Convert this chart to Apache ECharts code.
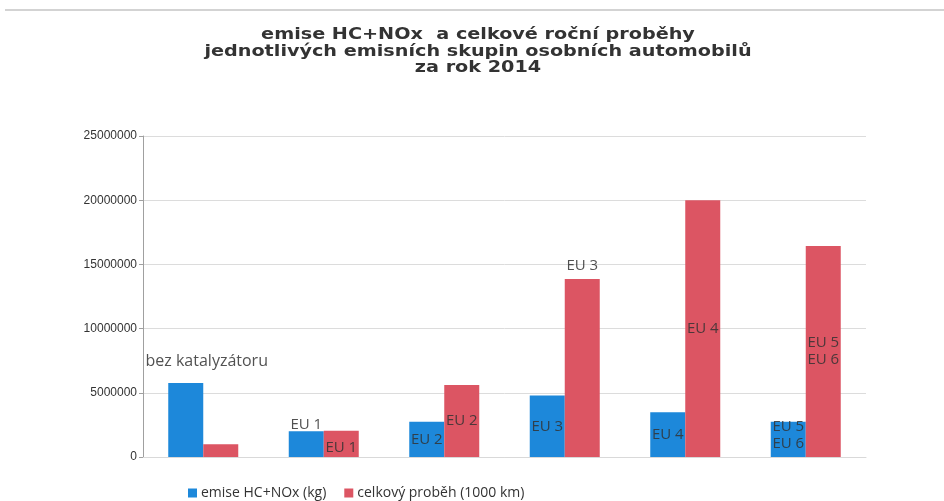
<!DOCTYPE html>
<html>
<head>
<meta charset="utf-8">
<script src="https://cdn.jsdelivr.net/npm/echarts@6/dist/echarts.min.js"></script>
<style>
  html, body { margin: 0; padding: 0; background: #fff; }
  #chart { width: 944px; height: 501px; }
</style>
</head>
<body>
<div id="chart"></div>
<script>
// ---- data ----
const categories = ['bez katalyzátoru', 'EU 1', 'EU 2', 'EU 3', 'EU 4', 'EU 5 EU 6'];
const emiseHC = [5760000, 2000000, 2750000, 4780000, 3490000, 2750000];
const probeh = [1000000, 2050000, 5600000, 13860000, 20000000, 16430000];
const emiseLabels = ['bez katalyzátoru', 'EU 1', 'EU 2', 'EU 3', 'EU 4', 'EU 5\nEU 6'];
const probehLabels = ['', 'EU 1', 'EU 2', 'EU 3', 'EU 4', 'EU 5\nEU 6'];
const seriesNames = ['emise HC+NOx (kg)', 'celkový proběh (1000 km)'];
const titleText = 'emise HC+NOx  a celkové roční proběhy\njednotlivých emisních skupin osobních automobilů\nza rok 2014';

// ---- label placement (styling, kept apart from data) ----
const emiseLabelPos = [
  { position: 'top', offset: [21, -8], fontSize: 16 },
  { position: 'top', offset: [0, 7] },
  { position: 'inside' },
  { position: 'inside' },
  { position: 'inside' },
  { position: 'inside', offset: [0, -4] }
];
const probehLabelPos = [
  { position: 'inside' },
  { position: 'insideBottom', offset: [0, 4] },
  { position: 'inside' },
  { position: 'top' },
  { position: 'inside' },
  { position: 'inside' }
];

const labelFont = { fontFamily: 'Open Sans', fontSize: 15, color: 'rgba(50,50,50,0.85)', lineHeight: 17 };

function buildData(values, labels, pos) {
  return values.map((v, i) => ({
    value: v,
    label: Object.assign({ show: labels[i] !== '', formatter: labels[i] }, labelFont, pos[i])
  }));
}

const chart = echarts.init(document.getElementById('chart'));
chart.setOption({
  backgroundColor: '#ffffff',
  animation: false,
  graphic: [
    {
      type: 'line',
      shape: { x1: 5, y1: 10, x2: 944, y2: 10 },
      style: { stroke: '#c4c4c4', lineWidth: 1.5 }
    },
    {
      type: 'text',
      x: 478,
      y: 27,
      scaleX: 1.2,
      style: {
        text: titleText,
        align: 'center',
        verticalAlign: 'top',
        fontFamily: 'DejaVu Sans',
        fontWeight: 'bold',
        fontSize: 16,
        lineHeight: 16.5,
        fill: '#333'
      }
    }
  ],
  legend: {
    data: seriesNames,
    left: 183,
    top: 481,
    itemWidth: 9,
    itemHeight: 9,
    itemGap: 18,
    icon: 'rect',
    textStyle: { fontFamily: 'Open Sans', fontSize: 14, color: '#333', padding: [0, 0, 0, -1] }
  },
  grid: { left: 143, right: 78, top: 136, bottom: 44 },
  xAxis: {
    type: 'category',
    data: categories,
    axisLabel: { show: false },
    axisTick: { show: false },
    axisLine: { lineStyle: { color: '#d9d9d9' } }
  },
  yAxis: {
    type: 'value',
    min: 0,
    max: 25000000,
    interval: 5000000,
    axisLine: { show: true, lineStyle: { color: '#a0a0a0' } },
    axisTick: { show: true, length: 4, lineStyle: { color: '#a0a0a0' } },
    axisLabel: {
      fontFamily: 'Liberation Sans', fontSize: 12, color: '#333', margin: 6,
      formatter: v => String(v)
    },
    splitLine: { lineStyle: { color: '#dcdcdc' } }
  },
  series: [
    {
      name: seriesNames[0],
      type: 'bar',
      barWidth: 35,
      barGap: '0%',
      itemStyle: { color: '#1d88da' },
      data: buildData(emiseHC, emiseLabels, emiseLabelPos)
    },
    {
      name: seriesNames[1],
      type: 'bar',
      barWidth: 35,
      barGap: '0%',
      itemStyle: { color: '#dc5563' },
      data: buildData(probeh, probehLabels, probehLabelPos)
    }
  ]
});
</script>
</body>
</html>
